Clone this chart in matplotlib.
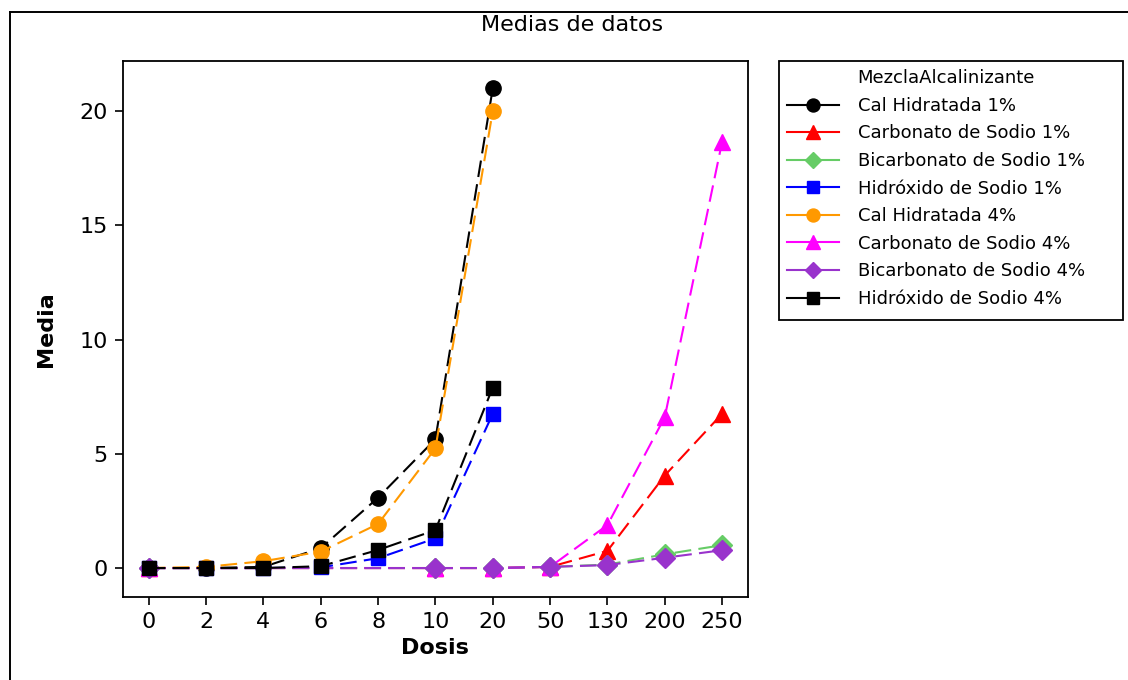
import numpy as np
import matplotlib.pyplot as plt
from matplotlib.lines import Line2D
from matplotlib.patches import Rectangle

plt.rcParams['font.family'] = ['DejaVu Sans']

# categorical dose axis
dosis = ["0", "2", "4", "6", "8", "10", "20", "50", "130", "200", "250"]

# doses tested per agent
dosis_cal_hid = ["0", "2", "4", "6", "8", "10", "20"]
dosis_carb = ["0", "10", "20", "50", "130", "200", "250"]

cal_1 = [0.0, 0.0, 0.05, 0.87, 3.08, 5.64, 21.0]
carb_1 = [0.0, 0.0, 0.0, 0.05, 0.75, 4.05, 6.75]
bicarb_1 = [0.0, 0.0, 0.0, 0.05, 0.15, 0.6, 1.0]
hidrox_1 = [0.0, 0.0, 0.0, 0.03, 0.43, 1.3, 6.75]
cal_4 = [0.0, 0.05, 0.3, 0.72, 1.93, 5.24, 20.0]
carb_4 = [0.0, 0.0, 0.0, 0.05, 1.88, 6.6, 18.65]
bicarb_4 = [0.0, 0.0, 0.0, 0.05, 0.13, 0.45, 0.78]
hidrox_4 = [0.0, 0.0, 0.0, 0.08, 0.79, 1.66, 7.9]

series = [
    ("Cal Hidratada 1%", dosis_cal_hid, cal_1, "black", "o", 11),
    ("Carbonato de Sodio 1%", dosis_carb, carb_1, "#ff0000", "^", 12),
    ("Bicarbonato de Sodio 1%", dosis_carb, bicarb_1, "#66cc66", "D", 10),
    ("Hidróxido de Sodio 1%", dosis_cal_hid, hidrox_1, "#0000ff", "s", 10.5),
    ("Cal Hidratada 4%", dosis_cal_hid, cal_4, "#ff9900", "o", 11),
    ("Carbonato de Sodio 4%", dosis_carb, carb_4, "#ff00ff", "^", 12),
    ("Bicarbonato de Sodio 4%", dosis_carb, bicarb_4, "#9933cc", "D", 10),
    ("Hidróxido de Sodio 4%", dosis_cal_hid, hidrox_4, "black", "s", 10.5),
]

fig = plt.figure(figsize=(11.28, 6.8), dpi=100)
ax = fig.add_axes([0.109, 0.122, 0.554, 0.788])

handles = [Line2D([], [], linestyle="none", label="MezclaAlcalinizante")]
for name, xs, ys, col, mk, ms in series:
    xpos = [dosis.index(d) for d in xs]
    ax.plot(xpos, ys, color=col, lw=1.5, dashes=(8, 3.5), marker=mk,
            markersize=ms, markeredgecolor=col, markerfacecolor=col)
    handles.append(Line2D([], [], color=col, lw=1.5, marker=mk,
                          markersize=ms * 0.85, label=name))

ax.set_xlim(-0.45, len(dosis) - 0.55)
ax.set_ylim(-1.27, 22.19)
ax.set_xticks(range(len(dosis)))
ax.set_xticklabels(dosis)
ax.set_yticks([0, 5, 10, 15, 20])
ax.tick_params(direction="out", length=6, width=1.2, labelsize=16, pad=5)
for sp in ax.spines.values():
    sp.set_linewidth(1.3)

ax.set_xlabel("Dosis", fontsize=16, fontweight="bold", labelpad=4)
ax.set_ylabel("Media", fontsize=16, fontweight="bold", labelpad=17)

fig.text(0.507, 1 - 25 / 680, "Medias de datos", fontsize=16,
         ha="center", va="center")

leg = fig.legend(handles=handles, loc="upper left",
                 bbox_to_anchor=(779 / 1128, 0.910), borderaxespad=0,
                 fontsize=13, handlelength=2.9, handletextpad=1.0,
                 labelspacing=0.53, frameon=False, borderpad=0.45)

# legend box, wider than its text like the original
fig.add_artist(Rectangle((779 / 1128, 1 - 320 / 680), 344 / 1128, 259 / 680,
                         transform=fig.transFigure, fill=False,
                         edgecolor="black", lw=1.3))

# outer frame of the graph region
fig.add_artist(Line2D([10 / 1128, 10 / 1128], [0, 1 - 12 / 680],
                      color="black", lw=1.4, transform=fig.transFigure))
fig.add_artist(Line2D([10 / 1128, 1], [1 - 12 / 680, 1 - 12 / 680],
                      color="black", lw=1.4, transform=fig.transFigure))

fig.savefig("out.png", dpi=100)
